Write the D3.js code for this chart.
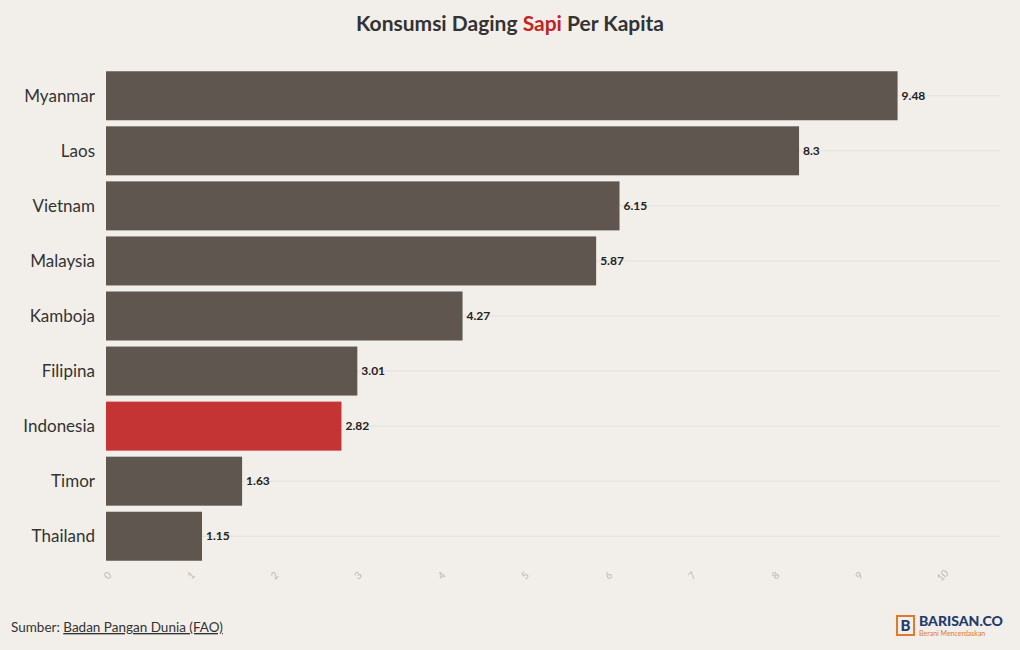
<!DOCTYPE html>
<html><head><meta charset="utf-8">
<script src="https://cdn.jsdelivr.net/npm/d3@7"></script>
<style>body{margin:0;background:#f2efea;font-family:Lato,"Open Sans",sans-serif}</style>
</head><body><svg id="c" width="1020" height="650"></svg>
<script>
const categories=["Myanmar","Laos","Vietnam","Malaysia","Kamboja","Filipina","Indonesia","Timor","Thailand"];
const values=[9.48,8.3,6.15,5.87,4.27,3.01,2.82,1.63,1.15];
const highlight="Indonesia";
const ticks=[0,1,2,3,4,5,6,7,8,9,10];
const svg=d3.select("#c");
svg.append("rect").attr("width",1020).attr("height",650).attr("fill","#f2efea");
const x=d3.scaleLinear().domain([0,10]).range([106,941]);
const y=d3.scaleBand().domain(categories).range([68.5,563.5]).paddingInner(0.11).paddingOuter(0.05);
const g=svg.append("g");
categories.forEach(c=>{g.append("line").attr("x1",106).attr("x2",1000).attr("y1",y(c)+y.bandwidth()/2).attr("y2",y(c)+y.bandwidth()/2).attr("stroke","#e4e0da").attr("stroke-width",1);});
g.selectAll(".bar").data(categories).join("rect").attr("x",x(0)).attr("y",d=>y(d)).attr("height",y.bandwidth())
 .attr("width",(d,i)=>x(values[i])-x(0)).attr("fill",d=>d===highlight?"#c53434":"#5f574f");
g.selectAll(".val").data(categories).join("text").attr("x",(d,i)=>x(values[i])+4).attr("y",d=>y(d)+y.bandwidth()/2).attr("dy","0.35em")
 .attr("font-size",12).attr("font-weight","bold").attr("fill","#222").text((d,i)=>values[i]);
g.selectAll(".cat").data(categories).join("text").attr("x",95).attr("y",d=>y(d)+y.bandwidth()/2).attr("dy","0.35em").attr("text-anchor","end")
 .attr("font-size",17).attr("fill","#333").text(d=>d);
g.selectAll(".tk").data(ticks).join("text").attr("transform",d=>`translate(${x(d)+4},${578}) rotate(-45)`).attr("text-anchor","middle")
 .attr("font-size",10).attr("fill","#bdb8b2").text(d=>d);
const t=svg.append("text").attr("x",510).attr("y",31).attr("text-anchor","middle").attr("font-size",21).attr("font-weight","bold").attr("fill","#333");
t.append("tspan").text("Konsumsi Daging ");t.append("tspan").attr("fill","#c02424").text("Sapi");t.append("tspan").text(" Per Kapita");
const s=svg.append("text").attr("x",11).attr("y",632).attr("font-size",13.5).attr("fill","#333");
s.append("tspan").text("Sumber: ");s.append("tspan").attr("text-decoration","underline").text("Badan Pangan Dunia (FAO)");
const l=svg.append("g");
l.append("rect").attr("x",897).attr("y",616).attr("width",17).attr("height",19).attr("fill","none").attr("stroke","#e07a2a").attr("stroke-width",2);
l.append("text").attr("x",905.5).attr("y",631).attr("text-anchor","middle").attr("font-size",15).attr("font-weight","900").attr("fill","#243a6b").text("B");
l.append("text").attr("x",919).attr("y",626).attr("font-size",14).attr("font-weight","900").attr("fill","#243a6b").text("BARISAN.CO");
l.append("text").attr("x",919).attr("y",636).attr("font-size",7).attr("fill","#e07a2a").text("Berani Mencerdaskan");
</script></body></html>
